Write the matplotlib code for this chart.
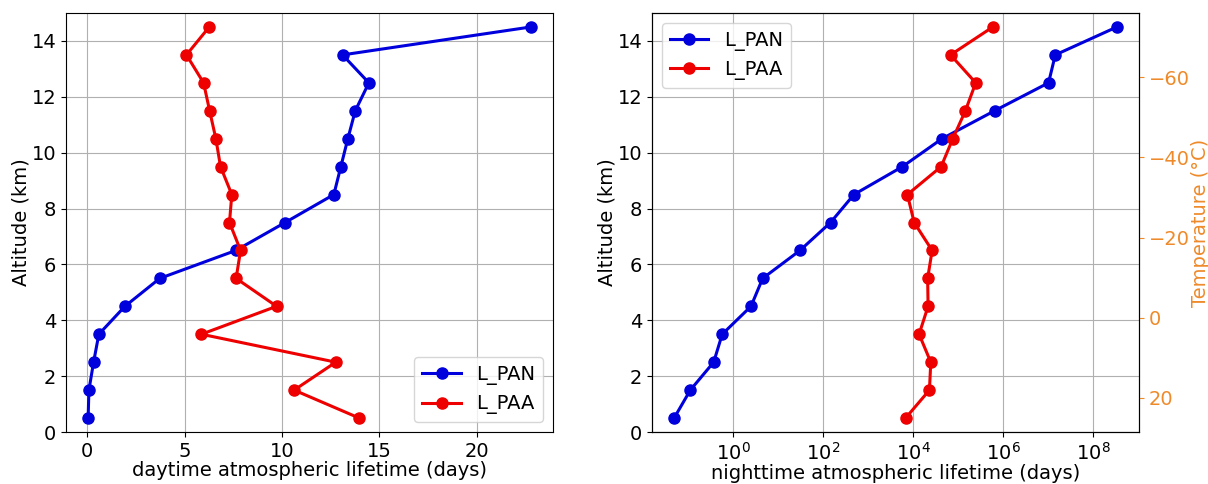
import numpy as np
import matplotlib
matplotlib.use("Agg")
import matplotlib.pyplot as plt

altitude = [0.5, 1.5, 2.5, 3.5, 4.5, 5.5, 6.5, 7.5, 8.5, 9.5, 10.5, 11.5, 12.5, 13.5, 14.5]

day_pan = [0.05, 0.09, 0.33, 0.60, 1.94, 3.73, 7.64, 10.17, 12.67, 13.03, 13.39, 13.77, 14.47, 13.12, 22.79]
day_paa = [13.97, 10.63, 12.77, 5.87, 9.73, 7.65, 7.88, 7.31, 7.43, 6.85, 6.61, 6.29, 5.98, 5.10, 6.27]

night_pan_log10 = [-1.32, -0.96, -0.44, -0.25, 0.39, 0.65, 1.48, 2.16, 2.68, 3.76, 4.64, 5.81, 7.01, 7.16, 8.53]
night_paa_log10 = [3.83, 4.36, 4.39, 4.13, 4.33, 4.32, 4.42, 4.02, 3.87, 4.62, 4.88, 5.16, 5.39, 4.83, 5.77]
night_pan = [10 ** v for v in night_pan_log10]
night_paa = [10 ** v for v in night_paa_log10]

temp_lim = (28.5, -76)
temp_ticks = [20, 0, -20, -40, -60]

FS = 14
orange = '#ee8a2a'

fig = plt.figure(figsize=(12.08, 4.84), dpi=100)
ax1 = fig.add_axes([66/1208, 1-432/484, (553-66)/1208, (432-13)/484])
ax2 = fig.add_axes([652/1208, 1-432/484, (1139-652)/1208, (432-13)/484])

kw = dict(marker='o', lw=2.2, ms=8)
ax1.plot(day_pan, altitude, color='#0000dd', label='L_PAN', **kw)
ax1.plot(day_paa, altitude, color='#ee0000', label='L_PAA', **kw)
ax1.set_ylim(0, 15)
ax1.set_xlabel('daytime atmospheric lifetime (days)', fontsize=FS, labelpad=0)
ax1.set_ylabel('Altitude (km)', fontsize=FS, labelpad=1)
ax1.tick_params(labelsize=FS)
ax1.grid(True, color='#b0b0b0', lw=0.8)
ax1.legend(loc='lower right', fontsize=FS)

ax2.plot(night_pan, altitude, color='#0000dd', label='L_PAN', **kw)
ax2.plot(night_paa, altitude, color='#ee0000', label='L_PAA', **kw)
ax2.set_xscale('log')
ax2.set_xticks([1e0, 1e2, 1e4, 1e6, 1e8])
ax2.minorticks_off()
ax2.set_ylim(0, 15)
ax2.set_xlabel('nighttime atmospheric lifetime (days)', fontsize=FS, labelpad=0)
ax2.set_ylabel('Altitude (km)', fontsize=FS, labelpad=1)
ax2.tick_params(labelsize=FS)
ax2.grid(True, color='#b0b0b0', lw=0.8)
ax2.legend(loc='upper left', fontsize=FS)

ax3 = ax2.twinx()
ax3.set_ylim(*temp_lim)
ax3.set_yticks(temp_ticks)
ax3.set_ylabel('Temperature (°C)', fontsize=FS, color=orange, labelpad=1)
ax3.tick_params(axis='y', colors=orange, labelsize=FS)

fig.savefig('out.png', dpi=100)
